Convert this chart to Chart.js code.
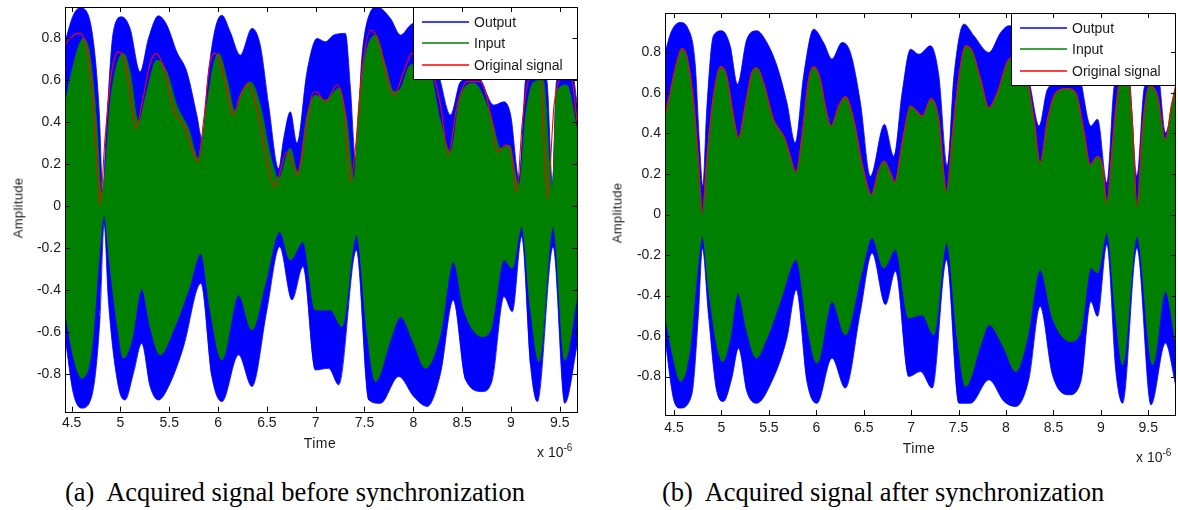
<!DOCTYPE html>
<html>
<head>
<meta charset="utf-8">
<script src="https://cdn.jsdelivr.net/npm/chart.js@4.4.0/dist/chart.umd.min.js"></script>
<style>
body { margin: 0; background: #fff; }
#wrap { position: relative; width: 1178px; height: 510px; overflow: hidden; font-family: "Liberation Sans", Arial, sans-serif; color: #1a1a1a; }
canvas { position: absolute; top: 0; }
.lbl { position: absolute; font-size: 14px; letter-spacing: 0.5px; white-space: nowrap; transform: translate(-50%, -50%); }
.ylab { position: absolute; font-size: 13px; letter-spacing: 0.3px; white-space: nowrap; transform: translate(-50%, -50%) rotate(-90deg); }
.exp { position: absolute; font-size: 14px; white-space: nowrap; }
.exp sup { font-size: 10px; }
.cap { position: absolute; font-family: "Liberation Serif", "Times New Roman", serif; font-size: 26.5px; white-space: pre; color: #000; }
</style>
</head>
<body>
<div id="wrap">
  <canvas id="chartA" width="590" height="470" style="left:0"></canvas>
  <canvas id="chartB" width="588" height="470" style="left:590px"></canvas>
  <div class="ylab" style="left:18px;top:208px">Amplitude</div>
  <div class="ylab" style="left:617px;top:213px">Amplitude</div>
  <div class="lbl" style="left:320px;top:443px">Time</div>
  <div class="lbl" style="left:919px;top:448px">Time</div>
  <div class="exp" style="left:537px;top:442px">x 10<sup>-6</sup></div>
  <div class="exp" style="left:1136px;top:447px">x 10<sup>-6</sup></div>
  <div class="cap" style="left:65px;top:477px">(a)  Acquired signal before synchronization</div>
  <div class="cap" style="left:662px;top:477px">(b)  Acquired signal after synchronization</div>
</div>
<script>
// ---- (a) before synchronization ----
const tOrigA = [4.432,4.483,4.568,4.637,4.705,4.756,4.791,4.842,4.91,4.979,5.047,5.116,5.16,5.218,5.304,5.365,5.44,5.543,5.663,5.731,5.789,5.851,5.919,5.971,6.039,6.09,6.152,6.227,6.313,6.398,6.484,6.579,6.706,6.774,6.815,6.894,6.979,7.014,7.099,7.219,7.287,7.356,7.407,7.475,7.561,7.646,7.732,7.8,7.903,7.988,8.14,8.279,8.358,8.45,8.553,8.689,8.792,8.86,8.946,8.997,9.059,9.117,9.185,9.3,9.373,9.442,9.5,9.603,9.682];
const origA = [0.768,0.80,0.824,0.784,0.562,0.244,0.006,0.323,0.641,0.736,0.689,0.482,0.371,0.482,0.681,0.729,0.665,0.466,0.371,0.276,0.212,0.403,0.689,0.729,0.657,0.546,0.435,0.53,0.586,0.466,0.26,0.093,0.26,0.196,0.149,0.355,0.546,0.543,0.498,0.578,0.482,0.117,0.276,0.641,0.84,0.784,0.61,0.53,0.641,0.729,0.70,0.482,0.244,0.482,0.594,0.594,0.435,0.26,0.292,0.276,0.069,0.403,0.61,0.65,0.037,0.482,0.61,0.65,0.387];

const tOutTopA = [4.432,4.517,4.585,4.671,4.739,4.784,4.818,4.859,4.927,5.013,5.098,5.201,5.287,5.389,5.475,5.577,5.68,5.782,5.834,5.902,5.971,6.039,6.124,6.227,6.347,6.432,6.518,6.62,6.672,6.74,6.808,6.911,7.014,7.099,7.185,7.304,7.356,7.407,7.475,7.561,7.629,7.766,7.869,7.971,8.142,8.279,8.381,8.484,8.655,8.826,8.929,8.997,9.083,9.151,9.271,9.373,9.425,9.466,9.603,9.682];
const outTopA = [0.784,0.911,0.946,0.911,0.72,0.435,0.069,0.403,0.832,0.903,0.848,0.641,0.80,0.908,0.864,0.736,0.641,0.435,0.323,0.641,0.848,0.911,0.832,0.72,0.848,0.768,0.482,0.18,0.323,0.45,0.30,0.641,0.80,0.784,0.816,0.824,0.562,0.228,0.72,0.927,0.951,0.895,0.816,0.864,0.9,0.594,0.435,0.594,0.62,0.482,0.498,0.435,0.133,0.61,0.75,0.578,0.101,0.594,0.7,0.48];

const tOutBotA = [4.432,4.517,4.603,4.705,4.791,4.832,4.876,4.979,5.047,5.133,5.218,5.304,5.389,5.509,5.646,5.824,5.936,6.039,6.21,6.347,6.5,6.631,6.757,6.87,6.997,7.133,7.236,7.417,7.544,7.663,7.851,8.005,8.142,8.279,8.409,8.536,8.707,8.809,8.929,9.014,9.11,9.202,9.271,9.432,9.552,9.682];
const outBotA = [-0.622,-0.892,-0.963,-0.908,-0.527,-0.082,-0.447,-0.86,-0.924,-0.797,-0.654,-0.86,-0.924,-0.844,-0.67,-0.368,-0.812,-0.932,-0.709,-0.86,-0.495,-0.193,-0.447,-0.288,-0.781,-0.773,-0.852,-0.209,-0.924,-0.94,-0.812,-0.908,-0.955,-0.797,-0.447,-0.828,-0.884,-0.828,-0.431,-0.503,-0.145,-0.765,-0.932,-0.193,-0.94,-0.654];

const tInTopA = [4.432,4.5,4.62,4.688,4.756,4.808,4.842,4.893,4.962,5.03,5.098,5.184,5.269,5.372,5.475,5.577,5.697,5.8,5.885,5.953,6.005,6.09,6.176,6.244,6.33,6.432,6.535,6.62,6.74,6.815,6.911,6.997,7.099,7.236,7.321,7.39,7.441,7.51,7.612,7.715,7.8,7.869,7.971,8.142,8.279,8.381,8.484,8.621,8.792,8.895,8.98,9.083,9.151,9.237,9.33,9.425,9.466,9.569,9.682];
const inTopA = [0.482,0.641,0.80,0.72,0.403,0.053,0.165,0.482,0.673,0.729,0.641,0.403,0.546,0.697,0.641,0.482,0.371,0.228,0.482,0.673,0.729,0.61,0.45,0.546,0.594,0.482,0.244,0.133,0.276,0.165,0.435,0.53,0.506,0.562,0.403,0.133,0.482,0.72,0.816,0.673,0.546,0.562,0.673,0.68,0.403,0.26,0.53,0.586,0.435,0.276,0.292,0.101,0.435,0.594,0.60,0.085,0.546,0.578,0.355];

const tInBotA = [4.432,4.517,4.603,4.705,4.774,4.832,4.893,4.979,5.03,5.116,5.218,5.304,5.406,5.543,5.697,5.824,5.919,6.039,6.21,6.347,6.484,6.631,6.74,6.87,6.997,7.15,7.27,7.417,7.527,7.612,7.766,7.869,8.005,8.125,8.279,8.409,8.518,8.707,8.792,8.929,9.014,9.11,9.202,9.288,9.432,9.552,9.682];
const inBotA = [-0.495,-0.717,-0.82,-0.685,-0.288,-0.042,-0.288,-0.606,-0.725,-0.638,-0.392,-0.574,-0.709,-0.59,-0.40,-0.225,-0.495,-0.733,-0.423,-0.59,-0.368,-0.121,-0.256,-0.169,-0.495,-0.495,-0.574,-0.137,-0.606,-0.836,-0.638,-0.527,-0.654,-0.773,-0.606,-0.264,-0.495,-0.622,-0.59,-0.256,-0.296,-0.098,-0.495,-0.741,-0.098,-0.733,-0.415];

// ---- (b) after synchronization ----
const tOrigB = [4.405,4.458,4.528,4.581,4.634,4.704,4.757,4.799,4.845,4.915,4.993,5.056,5.127,5.18,5.25,5.32,5.373,5.444,5.549,5.673,5.725,5.785,5.849,5.919,5.972,6.042,6.095,6.155,6.236,6.306,6.394,6.482,6.581,6.658,6.718,6.782,6.827,6.905,6.993,7.046,7.116,7.211,7.292,7.373,7.433,7.504,7.574,7.644,7.732,7.82,7.908,8.032,8.155,8.296,8.359,8.437,8.525,8.648,8.736,8.824,8.887,8.965,9.018,9.063,9.123,9.194,9.282,9.335,9.38,9.44,9.511,9.599,9.68,9.743,9.792];
const origB = [0.486,0.602,0.75,0.819,0.783,0.569,0.272,0.008,0.272,0.585,0.73,0.684,0.486,0.379,0.536,0.701,0.725,0.651,0.47,0.371,0.288,0.209,0.387,0.668,0.73,0.668,0.536,0.437,0.536,0.582,0.47,0.255,0.099,0.223,0.264,0.206,0.16,0.354,0.536,0.519,0.486,0.572,0.47,0.115,0.387,0.684,0.833,0.808,0.668,0.527,0.602,0.767,0.78,0.47,0.255,0.47,0.602,0.622,0.602,0.404,0.247,0.288,0.239,0.061,0.354,0.651,0.70,0.437,0.041,0.437,0.635,0.585,0.371,0.536,0.643];

const tOutTopB = [4.405,4.475,4.563,4.651,4.722,4.768,4.803,4.845,4.915,5.004,5.092,5.169,5.268,5.373,5.479,5.585,5.69,5.778,5.866,5.972,6.077,6.165,6.271,6.359,6.465,6.57,6.718,6.817,6.905,6.993,7.081,7.204,7.292,7.38,7.451,7.556,7.662,7.82,7.944,8.032,8.155,8.261,8.349,8.437,8.754,8.894,8.965,9.063,9.141,9.282,9.38,9.458,9.599,9.68,9.792];
const outTopB = [0.80,0.907,0.948,0.915,0.75,0.354,0.14,0.519,0.882,0.907,0.833,0.643,0.866,0.907,0.849,0.734,0.552,0.354,0.684,0.915,0.849,0.767,0.849,0.80,0.552,0.189,0.445,0.288,0.602,0.816,0.791,0.833,0.684,0.239,0.684,0.94,0.882,0.80,0.899,0.932,0.90,0.62,0.437,0.618,0.70,0.437,0.47,0.156,0.635,0.75,0.189,0.627,0.70,0.404,0.635];

const tOutBotB = [4.405,4.493,4.563,4.687,4.757,4.799,4.863,4.951,5.021,5.109,5.18,5.268,5.373,5.514,5.69,5.789,5.901,6.007,6.165,6.306,6.465,6.588,6.729,6.835,6.975,7.099,7.222,7.373,7.504,7.627,7.82,7.979,8.102,8.243,8.359,8.489,8.665,8.789,8.894,8.965,9.063,9.158,9.229,9.38,9.528,9.68,9.792];
const outBotB = [-0.61,-0.907,-0.956,-0.89,-0.495,-0.165,-0.495,-0.874,-0.923,-0.808,-0.66,-0.874,-0.932,-0.841,-0.61,-0.371,-0.824,-0.932,-0.709,-0.857,-0.478,-0.19,-0.445,-0.28,-0.80,-0.775,-0.857,-0.223,-0.932,-0.932,-0.816,-0.923,-0.948,-0.808,-0.453,-0.791,-0.89,-0.824,-0.429,-0.503,-0.148,-0.775,-0.932,-0.165,-0.94,-0.635,-0.85];

// input top follows the original signal almost exactly after sync
const tInTopB = tOrigB;
const inTopB = origB;

const tInBotB = [4.405,4.493,4.57,4.669,4.739,4.799,4.863,4.951,5.011,5.092,5.173,5.268,5.366,5.479,5.62,5.789,5.901,6.007,6.165,6.306,6.465,6.588,6.711,6.835,6.975,7.116,7.239,7.373,7.486,7.574,7.732,7.82,7.979,8.102,8.225,8.359,8.489,8.683,8.789,8.894,8.965,9.063,9.158,9.229,9.38,9.546,9.68,9.792];
const inBotB = [-0.495,-0.709,-0.824,-0.66,-0.313,-0.107,-0.363,-0.643,-0.726,-0.61,-0.387,-0.577,-0.709,-0.61,-0.429,-0.223,-0.544,-0.734,-0.429,-0.594,-0.313,-0.115,-0.264,-0.173,-0.511,-0.495,-0.594,-0.14,-0.61,-0.849,-0.643,-0.544,-0.66,-0.775,-0.61,-0.272,-0.511,-0.627,-0.577,-0.264,-0.289,-0.091,-0.511,-0.742,-0.107,-0.742,-0.379,-0.643];

const BLUE = '#0000ff', GREEN = '#008000', RED = '#ff0000';
const FONT = '"Liberation Sans", Arial, sans-serif';

function pts(t, v) { return t.map((x, i) => ({ x: x, y: v[i] })); }

// legend box in the top right corner of the plot, like matlab
const legendBox = {
  id: 'legendBox',
  afterDatasetsDraw(chart) {
    const a = chart.chartArea, ctx = chart.ctx;
    const items = chart.data.datasets.filter(d => d.label).reverse();
    const w = 165, h = 73, x = Math.round(a.right - w), y = Math.round(a.top);
    ctx.save();
    ctx.fillStyle = '#fff';
    ctx.fillRect(x, y, w, h);
    ctx.strokeStyle = '#000';
    ctx.lineWidth = 1;
    ctx.strokeRect(x + 0.5, y + 0.5, w - 1, h - 1);
    ctx.font = '14px ' + FONT;
    ctx.textBaseline = 'middle';
    items.forEach((d, i) => {
      const ry = Math.round(y + 14.7 + i * 21.7);
      ctx.strokeStyle = d.swatch;
      ctx.lineWidth = 1.5;
      ctx.beginPath();
      ctx.moveTo(x + 9, ry);
      ctx.lineTo(x + 56, ry);
      ctx.stroke();
      ctx.fillStyle = '#1a1a1a';
      ctx.fillText(d.label, x + 61, ry + 1);
    });
    ctx.restore();
  }
};

// box + inward ticks on all four sides
const frame = {
  id: 'frame',
  afterDraw(chart) {
    const a = chart.chartArea, ctx = chart.ctx;
    const xs = chart.scales.x, ys = chart.scales.y;
    ctx.save();
    ctx.strokeStyle = '#000';
    ctx.lineWidth = 1;
    ctx.strokeRect(Math.round(a.left) + 0.5, Math.round(a.top) + 0.5, Math.round(a.right - a.left) - 1, Math.round(a.bottom - a.top));
    ctx.beginPath();
    xs.ticks.forEach(tk => {
      const px = Math.round(xs.getPixelForValue(tk.value)) + 0.5;
      ctx.moveTo(px, a.bottom); ctx.lineTo(px, a.bottom - 5);
      ctx.moveTo(px, a.top); ctx.lineTo(px, a.top + 5);
    });
    ys.ticks.forEach(tk => {
      const py = Math.round(ys.getPixelForValue(tk.value)) + 0.5;
      ctx.moveTo(a.left, py); ctx.lineTo(a.left + 5, py);
      ctx.moveTo(a.right, py); ctx.lineTo(a.right - 5, py);
    });
    ctx.stroke();
    ctx.restore();
  }
};

function makePanel(id, p) {
  const fmt = v => String(Number(v.toFixed(1)));
  const env = { showLine: true, borderWidth: 0.8, cubicInterpolationMode: 'monotone' };
  return new Chart(document.getElementById(id), {
    type: 'scatter',
    data: {
      datasets: [
        { label: 'Original signal', data: pts(p.tOrig, p.orig), showLine: true, cubicInterpolationMode: 'monotone', borderColor: RED, borderWidth: 1.1, swatch: RED, fill: false },
        Object.assign({ label: 'Input', data: pts(p.tInTop, p.inTop), borderColor: GREEN, backgroundColor: GREEN, swatch: GREEN, fill: '+1' }, env),
        Object.assign({ data: pts(p.tInBot, p.inBot), borderColor: GREEN, fill: false }, env),
        Object.assign({ label: 'Output', data: pts(p.tOutTop, p.outTop), borderColor: BLUE, backgroundColor: BLUE, swatch: BLUE, fill: '+1' }, env),
        Object.assign({ data: pts(p.tOutBot, p.outBot), borderColor: BLUE, fill: false }, env)
      ]
    },
    options: {
      responsive: false,
      animation: false,
      events: [],
      elements: { point: { radius: 0 } },
      layout: { padding: p.pad },
      plugins: { legend: { display: false }, tooltip: { enabled: false } },
      scales: {
        x: {
          type: 'linear', min: p.xmin, max: p.xmax,
          grid: { display: false, drawTicks: false }, border: { display: false },
          ticks: { stepSize: 0.5, includeBounds: false, maxRotation: 0, autoSkip: false, padding: p.xpad, color: '#1a1a1a', font: { family: FONT, size: 14 }, callback: fmt },
          afterFit: s => { s.height = p.xh; s.paddingLeft = 0; s.paddingRight = 0; }
        },
        y: {
          min: p.ymin, max: p.ymax,
          grid: { display: false, drawTicks: false }, border: { display: false },
          ticks: { stepSize: 0.2, includeBounds: false, autoSkip: false, padding: 4, color: '#1a1a1a', font: { family: FONT, size: 14 }, callback: fmt },
          afterFit: s => { s.width = p.yw; s.paddingTop = 0; s.paddingBottom = 0; }
        }
      }
    },
    plugins: [legendBox, frame]
  });
}

makePanel('chartA', {
  tOrig: tOrigA, orig: origA, tInTop: tInTopA, inTop: inTopA, tInBot: tInBotA, inBot: inBotA,
  tOutTop: tOutTopA, outTop: outTopA, tOutBot: tOutBotA, outBot: outBotA,
  xmin: 4.432, xmax: 9.682, ymin: -0.98, ymax: 0.95,
  pad: { top: 7, right: 12.5, left: 0, bottom: 0 }, yw: 65, xh: 58.3, xpad: 3.5
});
makePanel('chartB', {
  tOrig: tOrigB, orig: origB, tInTop: tInTopB, inTop: inTopB, tInBot: tInBotB, inBot: inBotB,
  tOutTop: tOutTopB, outTop: outTopB, tOutBot: tOutBotB, outBot: outBotB,
  xmin: 4.405, xmax: 9.792, ymin: -0.99, ymax: 0.995,
  pad: { top: 13, right: 2, left: 0, bottom: 0 }, yw: 75, xh: 55, xpad: 5
});
</script>
</body>
</html>
